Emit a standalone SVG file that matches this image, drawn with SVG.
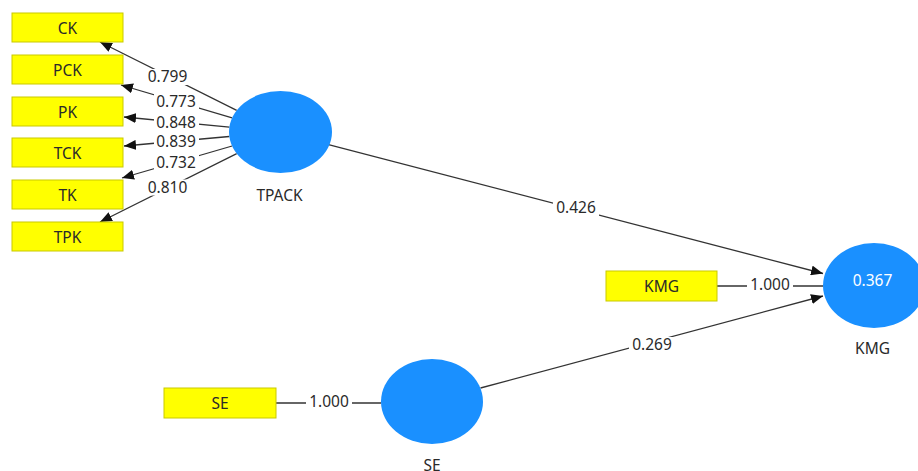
<svg xmlns="http://www.w3.org/2000/svg" width="918" height="471" viewBox="0 0 918 471">
<defs>
<style>
.box{fill:#ffff00;stroke:#c9c900;stroke-width:1}
.lv{fill:#1a90ff}
.t{font-family:"Noto Sans","Open Sans",sans-serif;font-size:15.5px;fill:#2a2a2a;text-anchor:middle}
.w{fill:#ffffff;font-family:"Noto Sans","Open Sans",sans-serif;font-size:15.5px;text-anchor:middle}
.ln{stroke:#333333;stroke-width:1.3;fill:none}
.bg{fill:#ffffff}
</style>
<marker id="ah" viewBox="0 0 12 10" refX="12" refY="5" markerWidth="12" markerHeight="10" markerUnits="userSpaceOnUse" orient="auto">
<path d="M0,0 L12,5 L0,10 z" fill="#111111"/>
</marker>
</defs>
<rect width="918" height="471" fill="#ffffff"/>
<g id="connectors">
<line class="ln" x1="236.7" y1="110.3" x2="100" y2="42" marker-end="url(#ah)"/>
<line class="ln" x1="232.1" y1="117.8" x2="121" y2="85" marker-end="url(#ah)"/>
<line class="ln" x1="229.4" y1="127.1" x2="124" y2="117" marker-end="url(#ah)"/>
<line class="ln" x1="229.3" y1="136.5" x2="124" y2="146" marker-end="url(#ah)"/>
<line class="ln" x1="232.1" y1="146" x2="122" y2="178" marker-end="url(#ah)"/>
<line class="ln" x1="236.7" y1="153.7" x2="100" y2="222" marker-end="url(#ah)"/>
<line class="ln" x1="328.5" y1="144.6" x2="823" y2="273.5" marker-end="url(#ah)"/>
<line class="ln" x1="480.5" y1="388" x2="823" y2="296" marker-end="url(#ah)"/>
<line class="ln" x1="717" y1="286" x2="823" y2="286"/>
<line class="ln" x1="276" y1="403" x2="381" y2="403"/>
<rect class="bg" x="145" y="69" width="45" height="16"/>
<text class="t" x="167.5" y="82">0.799</text>
<rect class="bg" x="154" y="94" width="45" height="16"/>
<text class="t" x="176" y="107">0.773</text>
<rect class="bg" x="154" y="115" width="45" height="16"/>
<text class="t" x="176" y="128">0.848</text>
<rect class="bg" x="154" y="133.5" width="45" height="16"/>
<text class="t" x="176" y="146.5">0.839</text>
<rect class="bg" x="154" y="154.5" width="45" height="16"/>
<text class="t" x="176" y="167.5">0.732</text>
<rect class="bg" x="145" y="179.5" width="45" height="16"/>
<text class="t" x="167.5" y="192.5">0.810</text>
<rect class="bg" x="553" y="200" width="46" height="16"/>
<text class="t" x="576" y="213">0.426</text>
<rect class="bg" x="629" y="337" width="46" height="16"/>
<text class="t" x="652" y="350">0.269</text>
<rect class="bg" x="747" y="277" width="46" height="16"/>
<text class="t" x="770" y="290">1.000</text>
<rect class="bg" x="306" y="394" width="46" height="16"/>
<text class="t" x="329" y="407">1.000</text>
</g>
<g id="CK"><rect class="box" x="12" y="13" width="111" height="29"/><text class="t" x="67.5" y="33.5">CK</text></g>
<g id="PCK"><rect class="box" x="12" y="55" width="111" height="29"/><text class="t" x="67.5" y="75.5">PCK</text></g>
<g id="PK"><rect class="box" x="12" y="97" width="111" height="29"/><text class="t" x="67.5" y="117.5">PK</text></g>
<g id="TCK"><rect class="box" x="12" y="138" width="111" height="29"/><text class="t" x="67.5" y="158.5">TCK</text></g>
<g id="TK"><rect class="box" x="12" y="180" width="111" height="29"/><text class="t" x="67.5" y="200.5">TK</text></g>
<g id="TPK"><rect class="box" x="12" y="222" width="111" height="29"/><text class="t" x="67.5" y="242.5">TPK</text></g>
<g id="KMG-ind"><rect class="box" x="606" y="271" width="111" height="30"/><text class="t" x="661.5" y="291.5">KMG</text></g>
<g id="SE-ind"><rect class="box" x="164" y="388" width="112" height="30"/><text class="t" x="220" y="408.5">SE</text></g>
<g id="TPACK"><ellipse class="lv" cx="280.5" cy="132" rx="51.5" ry="41"/><text class="t" x="279.5" y="201">TPACK</text></g>
<g id="KMG"><ellipse class="lv" cx="874" cy="285.5" rx="51" ry="42.5"/><text class="w" x="872.5" y="285.5">0.367</text><text class="t" x="872.5" y="354">KMG</text></g>
<g id="SE"><ellipse class="lv" cx="432" cy="401.5" rx="51" ry="42.5"/><text class="t" x="432" y="471">SE</text></g>
</svg>
